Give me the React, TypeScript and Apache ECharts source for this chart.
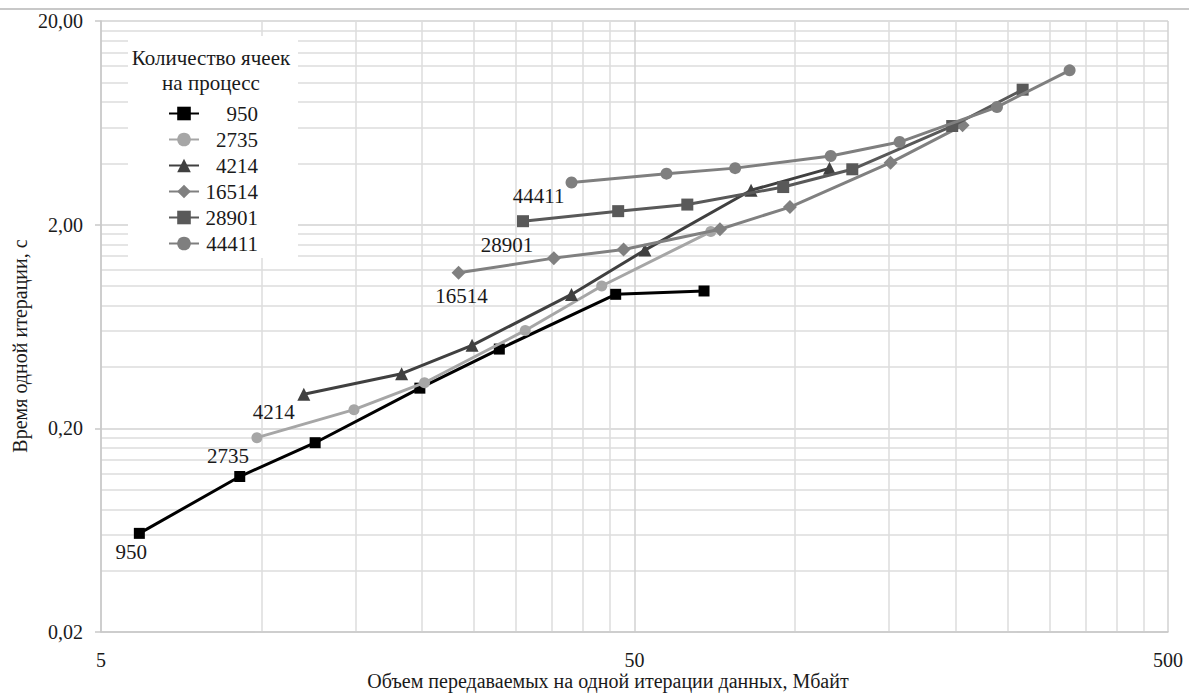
import { useEffect, useRef } from 'react';
import * as echarts from 'echarts';

// Cells per process (one line per value)
const seriesNames = ['950', '2735', '4214', '16514', '28901', '44411'];

// Transferred volume per iteration, MB
const volume950 = [5.9, 9.1, 12.6, 19.8, 27.9, 46.1, 67.5];
const volume2735 = [9.8, 14.9, 20.2, 31.2, 43.4, 69.5];
const volume4214 = [12.0, 18.3, 24.8, 38.1, 52.3, 82.7, 116];
const volume16514 = [23.4, 35.3, 47.7, 72.3, 97.8, 151, 206];
const volume28901 = [30.9, 46.6, 62.8, 95, 128, 197, 267];
const volume44411 = [38.1, 57.4, 77.2, 116.6, 157, 239, 327];

// Time of one iteration, s
const time950 = [0.061, 0.116, 0.17, 0.315, 0.49, 0.91, 0.945];
const time2735 = [0.18, 0.247, 0.335, 0.605, 1.0, 1.85];
const time4214 = [0.294, 0.371, 0.511, 0.909, 1.5, 2.95, 3.78];
const time16514 = [1.16, 1.37, 1.51, 1.9, 2.44, 4.03, 6.15];
const time28901 = [2.08, 2.33, 2.51, 3.06, 3.74, 6.1, 9.2];
const time44411 = [3.22, 3.56, 3.79, 4.35, 5.09, 7.56, 11.45];

// Axis ticks and minor grid positions
const xMajorTicks = [5, 50, 500];
const xMinorGrid = [10, 15, 20, 25, 30, 35, 40, 45, 100, 150, 200, 250, 300, 350, 400, 450];
const yMajorTicks = [0.02, 0.2, 2, 20];
const yMinorGrid = [
  0.04, 0.06, 0.08, 0.1, 0.12, 0.14, 0.16, 0.18,
  0.4, 0.6, 0.8, 1, 1.2, 1.4, 1.6, 1.8,
  4, 6, 8, 10, 12, 14, 16, 18,
];

const xTitle = 'Объем передаваемых на одной итерации данных, Мбайт';
const yTitle = 'Время одной итерации, с';
const legendTitle = 'Количество ячеек\nна процесс';

const volumes = [volume950, volume2735, volume4214, volume16514, volume28901, volume44411];
const times = [time950, time2735, time4214, time16514, time28901, time44411];

const FONT = "'Liberation Serif', 'Times New Roman', serif";

const lineStyles = [
  { color: '#000000', symbol: 'rect', size: 11, label: [-8, 19] },
  { color: '#a6a6a6', symbol: 'circle', size: 11, label: [-29, 18] },
  { color: '#404040', symbol: 'triangle', size: 13, label: [-30, 18] },
  { color: '#808080', symbol: 'diamond', size: 14, label: [3, 23] },
  { color: '#595959', symbol: 'rect', size: 12, label: [-16, 24] },
  { color: '#7f7f7f', symbol: 'circle', size: 12, label: [-33, 13] },
];

const fmtY = (v: number) => v.toFixed(2).replace('.', ',');

export default function App() {
  const ref = useRef<HTMLDivElement>(null);

  useEffect(() => {
    if (!ref.current) return;
    const chart = echarts.init(ref.current, undefined, { renderer: 'svg' });

    const series = seriesNames.map((name, s) => {
      const st = lineStyles[s];
      return {
        name,
        type: 'line',
        xAxisIndex: 0,
        yAxisIndex: 0,
        symbol: st.symbol,
        symbolSize: st.size,
        showAllSymbol: true,
        lineStyle: { color: st.color, width: 3 },
        itemStyle: { color: st.color },
        emphasis: { disabled: true },
        z: 3 + s,
        data: volumes[s].map((v, i) =>
          i === 0
            ? {
                value: [v, times[s][i]],
                label: {
                  show: true,
                  position: 'inside',
                  offset: st.label,
                  formatter: name,
                  fontFamily: FONT,
                  fontSize: 21,
                  color: '#1a1a1a',
                },
              }
            : { value: [v, times[s][i]] }
        ),
      };
    });

    chart.setOption({
      animation: false,
      backgroundColor: '#ffffff',
      textStyle: { fontFamily: FONT },
      grid: { left: 101, right: 21, top: 21, bottom: 63, containLabel: false },
      xAxis: [
        {
          type: 'log',
          logBase: 10,
          min: 5,
          max: 500,
          axisLine: { show: true, lineStyle: { color: '#c8c8c8', width: 1.5 } },
          axisTick: { show: false, customValues: xMajorTicks },
          axisLabel: {
            customValues: xMajorTicks,
            margin: 18,
            fontFamily: FONT,
            fontSize: 20,
            color: '#1a1a1a',
            formatter: (v: number) => String(Math.round(v)),
          },
          splitLine: { show: true, lineStyle: { color: '#d2d2d2', width: 1.5 } },
        },
        {
          type: 'log',
          logBase: 10,
          min: 5,
          max: 500,
          axisLine: { show: false },
          axisTick: { show: false, customValues: xMinorGrid },
          axisLabel: { show: false, customValues: xMinorGrid },
          splitLine: { show: true, lineStyle: { color: '#dcdcdc', width: 1.5 } },
        },
      ],
      yAxis: [
        {
          type: 'log',
          logBase: 10,
          min: 0.02,
          max: 20,
          axisLine: { show: true, lineStyle: { color: '#c8c8c8', width: 1.5 } },
          axisTick: {
            show: true,
            customValues: yMajorTicks,
            length: 6,
            lineStyle: { color: '#c8c8c8', width: 1.5 },
          },
          axisLabel: {
            customValues: yMajorTicks,
            margin: 18,
            fontFamily: FONT,
            fontSize: 20,
            color: '#1a1a1a',
            formatter: (v: number) => fmtY(v),
          },
          splitLine: { show: true, lineStyle: { color: '#d2d2d2', width: 1.5 } },
        },
        {
          type: 'log',
          logBase: 10,
          min: 0.02,
          max: 20,
          position: 'left',
          axisLine: { show: false },
          axisTick: { show: false, customValues: yMinorGrid },
          axisLabel: { show: false, customValues: yMinorGrid },
          splitLine: { show: true, lineStyle: { color: '#dcdcdc', width: 1.5 } },
        },
      ],
      legend: {
        orient: 'vertical',
        left: 168,
        top: 103,
        padding: 0,
        itemWidth: 30,
        itemHeight: 17,
        itemGap: 5,
        selectedMode: false,
        data: seriesNames,
        formatter: (name: string) => `{r|${name}}`,
        textStyle: {
          fontFamily: FONT,
          fontSize: 21,
          color: '#1a1a1a',
          rich: {
            r: { width: 54, align: 'right', fontFamily: FONT, fontSize: 21, lineHeight: 21, color: '#1a1a1a' },
          },
        },
      },
      graphic: [
        {
          type: 'rect',
          z: 1,
          silent: true,
          shape: { x: 0, y: 8, width: 1189, height: 2 },
          style: { fill: '#c8c8c8' },
        },
        {
          type: 'rect',
          z: 1,
          silent: true,
          shape: { x: 128, y: 36, width: 170, height: 222 },
          style: { fill: '#ffffff' },
        },
        {
          type: 'text',
          z: 5,
          silent: true,
          x: 211,
          y: 70,
          style: {
            text: legendTitle,
            fontFamily: FONT,
            fontSize: 21,
            lineHeight: 25,
            fill: '#1a1a1a',
            align: 'center',
            verticalAlign: 'middle',
          },
        },
        {
          type: 'text',
          z: 5,
          silent: true,
          x: 20,
          y: 346,
          rotation: Math.PI / 2,
          style: {
            text: yTitle,
            fontFamily: FONT,
            fontSize: 20,
            fill: '#1a1a1a',
            align: 'center',
            verticalAlign: 'middle',
          },
        },
        {
          type: 'text',
          z: 5,
          silent: true,
          x: 608,
          y: 681,
          style: {
            text: xTitle,
            fontFamily: FONT,
            fontSize: 20,
            fill: '#1a1a1a',
            align: 'center',
            verticalAlign: 'middle',
          },
        },
      ],
      series,
    });

    return () => chart.dispose();
  }, []);

  return (
    <div
      ref={ref}
      style={{ position: 'fixed', left: 0, top: 0, width: 1189, height: 695, background: '#fff' }}
    />
  );
}
